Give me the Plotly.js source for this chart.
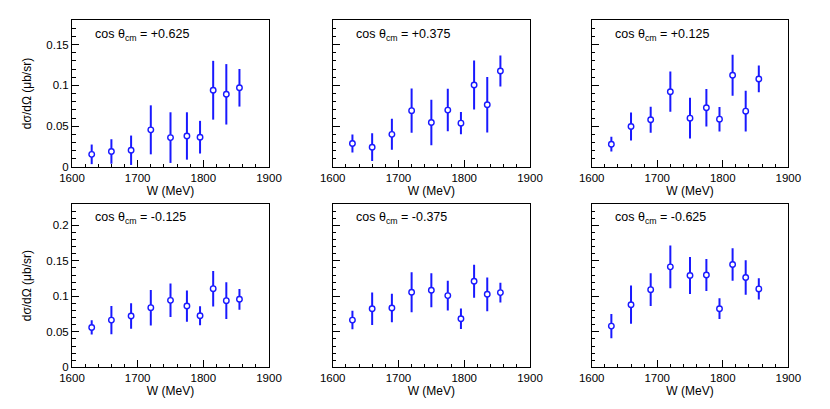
<!DOCTYPE html>
<html>
<head>
<meta charset="utf-8">
<script src="https://cdn.plot.ly/plotly-3.0.1.min.js"></script>
<style>
  body { margin: 0; background: white; }
  #chart { width: 830px; height: 409px; }
</style>
</head>
<body>
<div id="chart"></div>
<script>
// W bins (MeV), same for every angular bin
let W = [1630, 1660, 1690, 1720, 1750, 1775, 1795, 1815, 1835, 1855];

// angular bins, in panel order (row by row)
let cosLabels = ["+0.625", "+0.375", "+0.125", "-0.125", "-0.375", "-0.625"];

// dsigma/dOmega (ub/sr) and errors
let xsP625 = [0.0155, 0.019, 0.0205, 0.0455, 0.036, 0.038, 0.0365, 0.094, 0.089, 0.097];
let errP625 = [0.012, 0.015, 0.018, 0.030, 0.031, 0.029, 0.020, 0.036, 0.037, 0.023];

let xsP375 = [0.0287, 0.0242, 0.040, 0.069, 0.0545, 0.0697, 0.0537, 0.1004, 0.0762, 0.1176];
let errP375 = [0.011, 0.017, 0.019, 0.027, 0.028, 0.026, 0.0135, 0.030, 0.034, 0.019];

let xsP125 = [0.0279, 0.0496, 0.0578, 0.0922, 0.0598, 0.0725, 0.0586, 0.1123, 0.0684, 0.1078];
let errP125 = [0.009, 0.017, 0.016, 0.0246, 0.025, 0.023, 0.015, 0.025, 0.025, 0.0164];

let xsM125 = [0.0561, 0.0665, 0.0722, 0.084, 0.0943, 0.0863, 0.0726, 0.1108, 0.0939, 0.0958];
let errM125 = [0.010, 0.020, 0.018, 0.025, 0.0236, 0.022, 0.0135, 0.025, 0.026, 0.0146];

let xsM375 = [0.0665, 0.0825, 0.0835, 0.1057, 0.1085, 0.101, 0.0684, 0.1212, 0.1028, 0.1052];
let errM375 = [0.013, 0.023, 0.020, 0.028, 0.024, 0.021, 0.0143, 0.0234, 0.0238, 0.014];

let xsM625 = [0.058, 0.0882, 0.1094, 0.1415, 0.1292, 0.130, 0.0825, 0.1448, 0.1264, 0.1104];
let errM625 = [0.017, 0.027, 0.023, 0.030, 0.026, 0.0226, 0.0146, 0.023, 0.0243, 0.0149];

let allXs = [xsP625, xsP375, xsP125, xsM125, xsM375, xsM625];
let allErr = [errP625, errP375, errP125, errM125, errM375, errM625];

let blue = "rgb(25,25,255)";
let font = "Liberation Sans, Arial, Helvetica, sans-serif";

// panel frames in pixels (left, right) and (top, bottom)
let figW = 830, figH = 409;
let cols = [[72, 269], [332.7, 530], [591.7, 788.3]];
let rows = [[20, 167], [204, 367.3]];
let yMax = [0.18, 0.23];

let traces = [];
let layout = {
  width: figW,
  height: figH,
  margin: { l: 0, r: 0, t: 0, b: 0 },
  paper_bgcolor: "white",
  plot_bgcolor: "white",
  showlegend: false,
  font: { family: font, size: 12, color: "black" },
  annotations: [],
};

for (let i = 0; i < 6; i++) {
  let r = Math.floor(i / 3);
  let c = i % 3;
  let n = i === 0 ? "" : String(i + 1);

  traces.push({
    x: W,
    y: allXs[i],
    error_y: { type: "data", array: allErr[i], color: blue, thickness: 2, width: 0 },
    mode: "markers",
    type: "scatter",
    xaxis: "x" + n,
    yaxis: "y" + n,
    marker: { symbol: "circle", size: 5.5, color: "white", line: { color: blue, width: 1.4 } },
    cliponaxis: false,
  });

  layout["xaxis" + n] = {
    domain: [cols[c][0] / figW, cols[c][1] / figW],
    anchor: "y" + n,
    range: [1600, 1900],
    dtick: 100,
    ticks: "inside",
    ticklen: 7,
    tickcolor: "black",
    minor: { dtick: 20, ticks: "inside", ticklen: 3.5, tickcolor: "black", showgrid: false },
    showgrid: false,
    zeroline: false,
    showline: true,
    linecolor: "black",
    linewidth: 1,
    mirror: true,
    tickfont: { family: font, size: 11.5 },
    title: { text: "W (MeV)", font: { family: font, size: 12 }, standoff: 3 },
    automargin: false,
  };

  layout["yaxis" + n] = {
    domain: [1 - rows[r][1] / figH, 1 - rows[r][0] / figH],
    anchor: "x" + n,
    range: [0, yMax[r]],
    dtick: 0.05,
    ticks: "inside",
    ticklen: 7,
    tickcolor: "black",
    minor: { dtick: 0.01, ticks: "inside", ticklen: 3.5, tickcolor: "black", showgrid: false },
    showgrid: false,
    zeroline: false,
    showline: true,
    linecolor: "black",
    linewidth: 1,
    mirror: true,
    showticklabels: c === 0,
    tickfont: { family: font, size: 11.5 },
    title: c === 0 ? { text: "dσ/dΩ (μb/sr)", font: { family: font, size: 12 }, standoff: 12 } : { text: "" },
    automargin: false,
  };

  layout.annotations.push({
    text: "cos θ<sub>cm</sub> = " + cosLabels[i],
    xref: "x" + n + " domain",
    yref: "y" + n + " domain",
    x: 0.107,
    y: r === 0 ? 0.898 : 0.912,
    xanchor: "left",
    yanchor: "middle",
    showarrow: false,
    font: { family: font, size: 12.5, color: "black" },
  });
}

Plotly.newPlot("chart", traces, layout, { staticPlot: true, displayModeBar: false });
</script>
</body>
</html>
